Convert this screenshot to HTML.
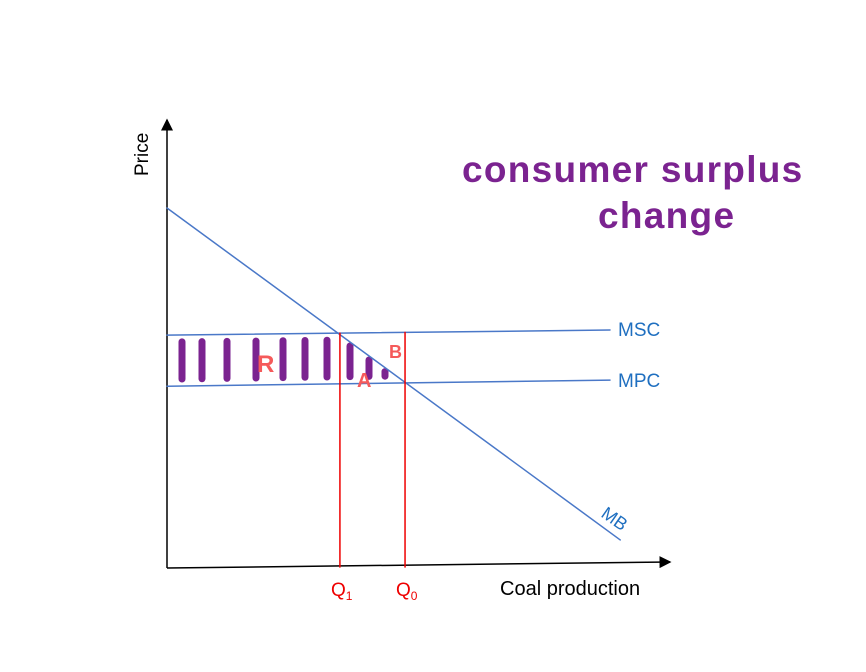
<!DOCTYPE html>
<html><head><meta charset="utf-8"><style>
body{margin:0;background:#fff}
svg{display:block}
text{font-family:"Liberation Sans",sans-serif}
</style></head><body>
<svg id="chart" width="866" height="672" viewBox="0 0 866 672">
<defs><marker id="ar" markerWidth="8" markerHeight="8" refX="7" refY="4" orient="auto"><path d="M0,0 L8,4 L0,8 z" fill="#000"/></marker></defs>
<line x1="167" y1="568" x2="167" y2="120" stroke="#000" stroke-width="1.5" marker-end="url(#ar)"/>
<line x1="167" y1="568" x2="670" y2="562" stroke="#000" stroke-width="1.5" marker-end="url(#ar)"/>
<text transform="translate(148,176) rotate(-90)" font-size="19" fill="#000">Price</text>
<text x="500" y="595" font-size="20" fill="#000">Coal production</text>
<g id="marks"></g>
<text x="618" y="336" font-size="19" fill="#1f6fc0">MSC</text>
<text x="618" y="387" font-size="19" fill="#1f6fc0">MPC</text>
<text transform="translate(600,516) rotate(35)" font-size="18" fill="#1f6fc0">MB</text>
<text x="331" y="596" font-size="19" fill="#e00">Q<tspan font-size="12" dy="4">1</tspan></text>
<text x="396" y="596" font-size="19" fill="#e00">Q<tspan font-size="12" dy="4">0</tspan></text>
<text x="257" y="372" font-size="24" font-weight="bold" fill="#f55a5a">R</text>
<text x="357" y="387" font-size="20" font-weight="bold" fill="#f55a5a">A</text>
<text x="389" y="358" font-size="18" font-weight="bold" fill="#f55a5a">B</text>
<text x="462" y="182" font-size="37" font-weight="bold" fill="#7b2390" letter-spacing="1.3">consumer surplus</text>
<text x="598" y="228" font-size="37" font-weight="bold" fill="#7b2390" letter-spacing="1.3">change</text>
</svg>
<script>
const hatchX = [182, 202, 227, 256, 283, 305, 327, 350, 369, 385, 401];
const mbStart = [0, 100];
const mbEnd = [103, 7.8];
const mscLevel = [64.7, 66.1];
const mpcLevel = [50.5, 52.2];
const qValues = [39.3, 54.1];
const xs = v => 167 + v * 4.4;
const ys = v => 568 - v * 3.6;
const g = document.getElementById('marks');
const ns = 'http://www.w3.org/2000/svg';
function ln(x1,y1,x2,y2,c,w,name){
  const l=document.createElementNS(ns,'line');
  l.setAttribute('x1',x1);l.setAttribute('y1',y1);l.setAttribute('x2',x2);l.setAttribute('y2',y2);
  l.setAttribute('stroke',c);l.setAttribute('stroke-width',w);l.setAttribute('stroke-linecap','round');
  
  
  g.appendChild(l);return l;
}
const mbY = x => { const t=(x-xs(mbStart[0]))/(xs(mbEnd[0])-xs(mbStart[0])); return ys(mbStart[1])+t*(ys(mbEnd[1])-ys(mbStart[1])); };
const mscY = x => ys(mscLevel[0]) + (x-167)/(610-167)*(ys(mscLevel[1])-ys(mscLevel[0]));
const mpcY = x => ys(mpcLevel[0]) + (x-167)/(610-167)*(ys(mpcLevel[1])-ys(mpcLevel[0]));
hatchX.forEach(x=>{
  const top = Math.max(mscY(x)+7, mbY(x)+4);
  const bot = mpcY(x)-7;
  if (bot>top) ln(x,top,x,bot,'#7b2390',7,'surplus-hatch');
});
ln(167,mscY(167),610,mscY(610),'#4a78c8',1.5,'msc-line');
ln(167,mpcY(167),610,mpcY(610),'#4a78c8',1.5,'mpc-line');
ln(xs(mbStart[0]),ys(mbStart[1]),xs(mbEnd[0]),ys(mbEnd[1]),'#4a78c8',1.5,'mb-line');
qValues.forEach((q,i)=>{
  const x=xs(q);
  ln(x,mscY(x),x,567,'#e00',1.5,i===0?'q1-line':'q0-line');
});
</script>
</body></html>
